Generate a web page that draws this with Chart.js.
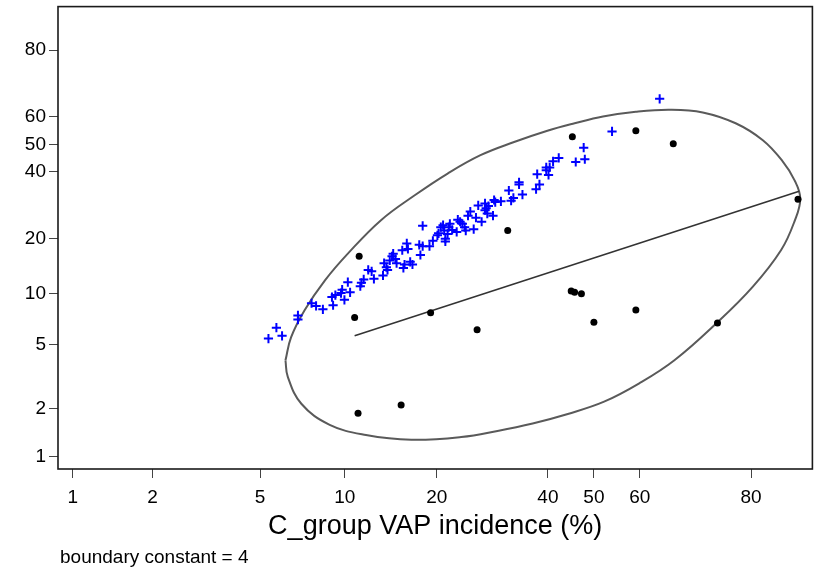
<!DOCTYPE html>
<html>
<head>
<meta charset="utf-8">
<title>VAP incidence bivariate boxplot</title>
<script src="https://cdn.jsdelivr.net/npm/chart.js@4.4.1/dist/chart.umd.min.js"></script>
<style>
  html, body { margin: 0; padding: 0; background: #fff; }
  #wrap { position: relative; width: 819px; height: 573px; }
  #note {
    position: absolute; left: 60px; top: 546px;
    font: 19px "Liberation Sans", Arial, sans-serif; color: #000;
  }
</style>
</head>
<body>
<div id="wrap">
  <canvas id="vapChart"></canvas>
  <div id="note">boundary constant = 4</div>
</div>
<script>
// tick labels (percent) - both axes are on the log-odds scale
const xTickPercents = [1, 2, 5, 10, 20, 40, 50, 60, 80];
const yTickPercents = [1, 2, 5, 10, 20, 40, 50, 60, 80];

// blue crosses, log-odds units
const crossX = [-2.87, -2.80, -2.75, -2.61, -2.61, -2.49, -2.45, -2.39, -2.30, -2.31,
  -2.28, -2.22, -2.23, -2.20, -2.17, -2.15, -2.06, -2.05, -2.03, -1.99,
  -1.96, -1.94, -1.86, -1.85, -1.83, -1.82, -1.80, -1.78, -1.77, -1.75,
  -1.74, -1.69, -1.68, -1.67, -1.65, -1.64, -1.62, -1.60, -1.54, -1.53,
  -1.51, -1.51, -1.45, -1.42, -1.38, -1.37, -1.35, -1.33, -1.32, -1.31,
  -1.31, -1.29, -1.28, -1.27, -1.25, -1.21, -1.20, -1.18, -1.16, -1.14,
  -1.13, -1.11, -1.09, -1.06, -1.04, -1.02, -0.99, -0.96, -0.96, -0.95,
  -0.94, -0.93, -0.89, -0.88, -0.87, -0.82, -0.75, -0.73, -0.71, -0.66,
  -0.66, -0.63, -0.51, -0.50, -0.48, -0.42, -0.42, -0.40, -0.36, -0.31,
  -0.39, -0.16, -0.09, -0.08, 0.16, 0.58];
const crossY = [-2.86, -2.70, -2.82, -2.52, -2.58, -2.34, -2.38, -2.43, -2.37, -2.25,
  -2.22, -2.14, -2.19, -2.29, -2.03, -2.18, -2.09, -2.04, -1.99, -1.85,
  -1.87, -1.98, -1.93, -1.75, -1.81, -1.85, -1.71, -1.65, -1.61, -1.69,
  -1.75, -1.56, -1.82, -1.77, -1.46, -1.54, -1.73, -1.77, -1.48, -1.63,
  -1.20, -1.50, -1.50, -1.42, -1.34, -1.31, -1.22, -1.19, -1.27, -1.39,
  -1.43, -1.32, -1.22, -1.17, -1.26, -1.29, -1.11, -1.14, -1.17, -1.22,
  -1.27, -1.05, -0.99, -1.25, -1.08, -0.90, -1.14, -0.87, -0.97, -0.94,
  -1.02, -0.91, -1.05, -0.82, -0.85, -0.84, -0.68, -0.83, -0.79, -0.56,
  -0.59, -0.74, -0.66, -0.44, -0.59, -0.34, -0.38, -0.45, -0.25, -0.20,
  -0.34, -0.26, -0.05, -0.22, 0.19, 0.67];

// black dots, log-odds units
const dotX = [-2.07, -0.76, -2.11, -1.44, -1.03, -0.20, -0.17, -0.11, 0.37, 0.00,
  1.09, -2.08, -1.70, -0.19, 0.37, 0.70, 1.80];
const dotY = [-1.65, -1.27, -2.55, -2.48, -2.73, -2.16, -2.18, -2.20, -2.44, -2.62,
  -2.63, -3.96, -3.84, 0.11, 0.20, 0.01, -0.81];

// fitted line end points
const fitX = [-2.11, 1.81];
const fitY = [-2.82, -0.69];

// boundary ellipse, read around the curve (closed)
const fenceX = [-2.72, -2.67, -2.55, -2.37, -2.17, -1.88, -1.58, -1.29, -1.00, -0.71,
  -0.41, -0.17, 0.08, 0.37, 0.67, 0.96, 1.25, 1.49, 1.66, 1.77,
  1.82, 1.77, 1.65, 1.40, 1.09, 0.71, 0.40, 0.09, -0.23, -0.54,
  -0.85, -1.17, -1.61, -2.01, -2.33, -2.58, -2.70, -2.72];
const fenceY = [-3.18, -2.84, -2.44, -2.00, -1.61, -1.12, -0.75, -0.43, -0.16, 0.03,
  0.20, 0.31, 0.41, 0.48, 0.51, 0.47, 0.31, 0.06, -0.24, -0.53,
  -0.80, -1.13, -1.56, -2.10, -2.62, -3.18, -3.52, -3.79, -3.97, -4.11,
  -4.22, -4.31, -4.35, -4.28, -4.13, -3.82, -3.42, -3.18];

function logit(p) {
  return Math.log(p / (100 - p));
}

function toPoints(xs, ys) {
  return xs.map((x, i) => ({ x: x, y: ys[i] }));
}

const frame = {
  id: "frame",
  afterDraw(chart) {
    const { ctx, chartArea: a } = chart;
    ctx.save();
    ctx.strokeStyle = "#1a1a1a";
    ctx.lineWidth = 1.6;
    ctx.strokeRect(a.left, a.top, a.right - a.left, a.bottom - a.top);
    ctx.restore();
  },
};

const tickFont = { family: "'Liberation Sans', Arial, sans-serif", size: 19 };

new Chart(document.getElementById("vapChart"), {
  type: "scatter",
  data: {
    datasets: [
      {
        data: toPoints(crossX, crossY),
        pointStyle: "cross",
        pointRadius: 4.6,
        borderColor: "#0000ff",
        borderWidth: 2,
      },
      {
        data: toPoints(dotX, dotY),
        pointStyle: "circle",
        pointRadius: 3.5,
        backgroundColor: "#000",
        borderColor: "#000",
        borderWidth: 0,
      },
      {
        data: toPoints(fitX, fitY),
        showLine: true,
        pointRadius: 0,
        borderColor: "#333",
        borderWidth: 1.6,
      },
      {
        data: toPoints(fenceX, fenceY),
        showLine: true,
        tension: 0.4,
        pointRadius: 0,
        borderColor: "#5a5a5a",
        borderWidth: 2,
      },
    ],
  },
  options: {
    responsive: true,
    maintainAspectRatio: false,
    animation: false,
    layout: { padding: { top: 6, right: 2, left: 0, bottom: 0 } },
    plugins: { legend: { display: false }, tooltip: { enabled: false } },
    scales: {
      x: {
        type: "linear",
        min: -4.726,
        max: 1.927,
        bounds: "data",
        afterBuildTicks: (axis) => {
          axis.ticks = xTickPercents.map((p) => ({ value: logit(p) }));
        },
        afterFit: (axis) => {
          axis.height = 104;
          axis.paddingLeft = 0;
          axis.paddingRight = 0;
        },
        ticks: {
          autoSkip: false,
          maxRotation: 0,
          padding: 8,
          color: "#000",
          font: tickFont,
          callback: (value, index) => xTickPercents[index],
        },
        grid: {
          drawOnChartArea: false,
          drawTicks: true,
          tickLength: 9,
          tickColor: "#444",
        },
        border: { display: false },
        title: {
          display: true,
          text: "C_group VAP incidence (%)",
          color: "#000",
          font: { family: "'Liberation Sans', Arial, sans-serif", size: 27 },
          padding: { top: 0, bottom: 30 },
        },
      },
      y: {
        type: "linear",
        min: -4.781,
        max: 2.028,
        bounds: "data",
        afterBuildTicks: (axis) => {
          axis.ticks = yTickPercents.map((p) => ({ value: logit(p) }));
        },
        afterFit: (axis) => {
          axis.width = 58;
          axis.paddingTop = 0;
          axis.paddingBottom = 0;
        },
        ticks: {
          autoSkip: false,
          padding: 3,
          color: "#000",
          font: tickFont,
          callback: (value, index) => yTickPercents[index],
        },
        grid: {
          drawOnChartArea: false,
          drawTicks: true,
          tickLength: 9,
          tickColor: "#444",
        },
        border: { display: false },
      },
    },
  },
  plugins: [frame],
});
</script>
</body>
</html>
